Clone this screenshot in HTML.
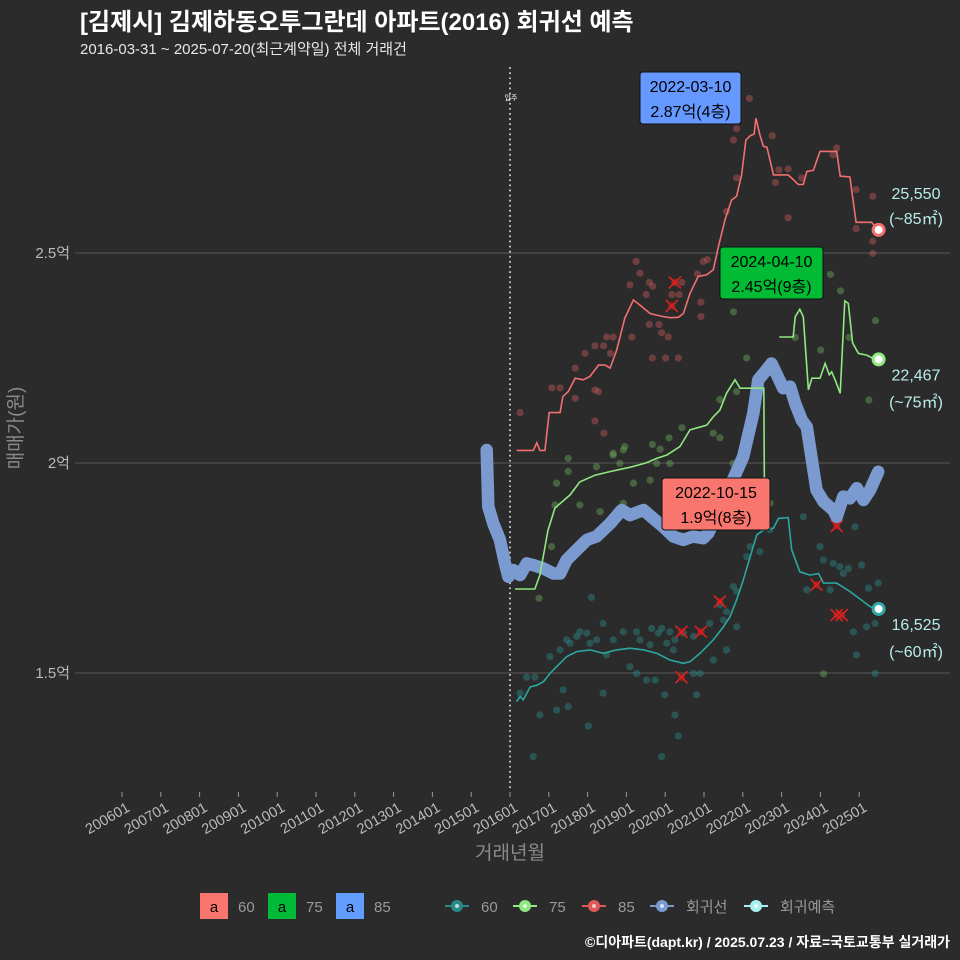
<!DOCTYPE html>
<html><head><meta charset="utf-8">
<style>
html,body{margin:0;padding:0;background:#2b2b2b;}
svg{display:block;font-family:"Liberation Sans","Noto Sans CJK KR",sans-serif;}
</style></head>
<body>
<svg id="chart" width="960" height="960" viewBox="0 0 960 960" xmlns="http://www.w3.org/2000/svg">
<rect x="0" y="0" width="960" height="960" fill="#2b2b2b"/>
<text x="80" y="30" fill="#ffffff" font-size="24" font-weight="bold">[김제시] 김제하동오투그란데 아파트(2016) 회귀선 예측</text>
<text x="80" y="54" fill="#e8e8e8" font-size="15">2016-03-31 ~ 2025-07-20(최근계약일) 전체 거래건</text>
<g id="grid"></g>
<g id="xaxis"></g>
<g id="yaxis"></g>
<g id="marks"></g>
<text x="511" y="100" fill="#ffffff" font-size="7" text-anchor="middle">입주</text>
<text transform="translate(22,428) rotate(-90)" fill="#8a8a8a" font-size="19" text-anchor="middle">매매가(원)</text>
<text x="510" y="859" fill="#8a8a8a" font-size="19" text-anchor="middle">거래년월</text>
<g id="legend"></g>
<text x="950" y="947" fill="#ffffff" font-size="14" font-weight="bold" text-anchor="end">©디아파트(dapt.kr) / 2025.07.23 / 자료=국토교통부 실거래가</text>
</svg>
<script>
// ===== data =====
const xTickLabels = ["200601","200701","200801","200901","201001","201101","201201","201301","201401","201501","201601","201701","201801","201901","202001","202101","202201","202301","202401","202501"];
const xTickYears = [2006,2007,2008,2009,2010,2011,2012,2013,2014,2015,2016,2017,2018,2019,2020,2021,2022,2023,2024,2025];
const yTickValues = [1.5,2,2.5];
const yTickLabels = ["1.5억","2억","2.5억"];
const moveInYear = 2016.0;

const line85Years = [2016.17,2016.60,2016.69,2016.77,2016.90,2017.01,2017.29,2017.36,2017.50,2017.68,2017.89,2018.06,2018.28,2018.45,2018.58,2018.75,2018.96,2019.18,2019.35,2019.61,2019.87,2020.12,2020.34,2020.47,2020.64,2020.85,2021.07,2021.24,2021.37,2021.54,2021.71,2021.84,2021.97,2022.08,2022.19,2022.29,2022.34,2022.44,2022.53,2022.62,2022.79,2023.17,2023.30,2023.43,2023.56,2023.65,2023.82,2023.99,2024.42,2024.51,2024.76,2024.92,2025.32,2025.50];
const line85Values = [2.03,2.03,2.048,2.03,2.03,2.12,2.12,2.158,2.17,2.202,2.198,2.206,2.233,2.233,2.226,2.269,2.345,2.388,2.376,2.356,2.35,2.346,2.347,2.356,2.404,2.444,2.448,2.46,2.515,2.579,2.626,2.635,2.686,2.769,2.779,2.783,2.821,2.781,2.754,2.752,2.686,2.686,2.675,2.663,2.663,2.694,2.697,2.742,2.742,2.683,2.681,2.573,2.573,2.553];

const line75aYears = [2016.13,2016.64,2016.77,2016.98,2017.16,2017.55,2017.80,2018.19,2018.60,2019.10,2019.50,2019.78,2020.04,2020.38,2020.64,2021.07,2021.24,2021.41,2021.58,2021.80,2021.93,2022.36,2022.54,2022.56];
const line75aValues = [1.70,1.70,1.733,1.84,1.893,1.924,1.955,1.971,1.98,1.99,2.0,2.011,2.019,2.039,2.079,2.09,2.11,2.126,2.166,2.198,2.178,2.178,2.178,1.90];
const line75bYears = [2022.94,2023.30,2023.35,2023.47,2023.56,2023.69,2023.78,2023.99,2024.12,2024.23,2024.29,2024.38,2024.51,2024.63,2024.72,2024.83,2024.98,2025.19,2025.32,2025.50];
const line75bValues = [2.30,2.30,2.348,2.366,2.348,2.174,2.202,2.202,2.237,2.21,2.217,2.198,2.166,2.386,2.38,2.286,2.261,2.257,2.251,2.245];

const line60Years = [2016.17,2016.26,2016.34,2016.52,2016.69,2016.86,2017.03,2017.20,2017.46,2017.72,2018.06,2018.41,2018.75,2019.09,2019.44,2019.78,2020.12,2020.47,2020.64,2020.90,2021.24,2021.50,2021.67,2021.84,2022.01,2022.19,2022.36,2022.53,2022.79,2022.92,2023.17,2023.26,2023.47,2023.73,2023.95,2024.08,2024.42,2024.76,2025.11,2025.28,2025.49];
const line60Values = [1.432,1.444,1.436,1.467,1.471,1.479,1.499,1.515,1.539,1.551,1.555,1.547,1.555,1.559,1.555,1.547,1.531,1.523,1.527,1.547,1.579,1.61,1.634,1.674,1.721,1.777,1.829,1.84,1.845,1.868,1.87,1.793,1.741,1.733,1.737,1.714,1.714,1.694,1.67,1.658,1.652];

const regYears = [2015.40,2015.44,2015.57,2015.74,2015.87,2015.96,2016.09,2016.26,2016.43,2016.60,2016.86,2017.12,2017.29,2017.46,2017.72,2017.98,2018.23,2018.58,2018.88,2019.09,2019.44,2019.69,2019.95,2020.21,2020.47,2020.72,2020.98,2021.11,2021.67,2022.01,2022.27,2022.40,2022.57,2022.74,2022.92,2023.04,2023.22,2023.35,2023.52,2023.65,2023.78,2023.90,2024.08,2024.33,2024.42,2024.59,2024.76,2024.94,2025.11,2025.28,2025.49];
const regValues = [2.031,1.896,1.856,1.817,1.761,1.729,1.745,1.733,1.761,1.757,1.749,1.737,1.737,1.769,1.793,1.817,1.825,1.856,1.888,1.876,1.888,1.868,1.848,1.825,1.817,1.825,1.821,1.833,1.944,2.015,2.118,2.198,2.217,2.237,2.202,2.178,2.182,2.142,2.102,2.086,2.007,1.936,1.908,1.888,1.872,1.92,1.916,1.94,1.912,1.936,1.979];

const pts85Years = [2016.26,2017.08,2017.29,2017.68,2018.19,2018.28,2018.19,2018.42,2017.68,2017.93,2018.19,2018.41,2018.49,2018.66,2018.59,2019.14,2019.09,2019.25,2019.35,2019.59,2019.68,2019.51,2019.59,2019.84,2019.91,2020.08,2019.67,2020.01,2020.34,2020.17,2020.36,2020.43,2020.25,2020.83,2020.92,2020.92,2020.98,2021.09,2021.58,2021.84,2021.76,2021.84,2022.17,2022.76,2022.93,2023.17,2022.84,2023.52,2024.33,2024.42,2024.92,2025.35,2023.17,2024.92,2025.35,2025.35];
const pts85Values = [2.12,2.179,2.179,2.154,2.174,2.17,2.10,2.071,2.226,2.261,2.279,2.279,2.30,2.30,2.261,2.30,2.424,2.48,2.452,2.43,2.421,2.401,2.33,2.33,2.31,2.30,2.25,2.25,2.25,2.401,2.401,2.43,2.43,2.45,2.383,2.349,2.48,2.484,2.599,2.679,2.769,2.796,2.868,2.779,2.698,2.70,2.668,2.679,2.734,2.75,2.651,2.635,2.584,2.558,2.528,2.499];

const pts75Years = [2024.26,2024.52,2021.76,2022.10,2021.84,2021.41,2021.41,2021.24,2020.43,2020.10,2019.67,2019.87,2018.96,2018.66,2023.35,2024.01,2024.74,2025.42,2025.25,2017.50,2017.50,2018.23,2018.66,2018.92,2018.83,2019.18,2019.61,2019.78,2020.12,2021.75,2017.20,2017.16,2017.80,2018.32,2018.92,2017.07,2016.75,2024.08,2022.70];
const pts75Values = [2.449,2.41,2.36,2.25,2.17,2.151,2.06,2.071,2.084,2.06,2.044,2.033,2.039,2.023,2.299,2.269,2.299,2.339,2.15,2.011,1.98,1.991,2.019,2.031,1.999,1.952,1.959,1.999,1.999,1.999,1.952,1.90,1.90,1.884,1.904,1.801,1.678,1.498,1.904];

const pts60Years = [2016.26,2016.43,2016.64,2016.77,2016.60,2017.03,2017.29,2017.46,2017.55,2017.72,2017.80,2017.98,2018.06,2018.23,2018.40,2018.49,2018.66,2018.92,2019.26,2019.35,2019.61,2019.65,2019.82,2019.91,2020.04,2020.21,2020.12,2020.25,2020.47,2020.73,2021.15,2021.41,2021.58,2021.76,2021.84,2021.50,2021.58,2021.24,2020.73,2020.90,2020.81,2019.99,2020.25,2020.34,2019.91,2019.74,2019.52,2019.26,2019.09,2018.40,2018.02,2017.50,2017.37,2017.20,2018.10,2023.56,2023.99,2024.08,2024.33,2024.50,2024.72,2024.59,2025.06,2024.89,2025.49,2025.24,2023.65,2024.25,2024.85,2025.19,2025.41,2024.93,2025.41,2022.19,2022.44,2022.70,2021.84,2022.10];
const pts60Values = [1.452,1.49,1.49,1.40,1.301,1.539,1.555,1.579,1.571,1.587,1.598,1.595,1.571,1.579,1.618,1.543,1.579,1.598,1.598,1.579,1.567,1.606,1.595,1.606,1.571,1.555,1.598,1.579,1.595,1.587,1.618,1.662,1.646,1.706,1.694,1.626,1.555,1.531,1.499,1.499,1.448,1.448,1.40,1.35,1.301,1.483,1.483,1.499,1.515,1.452,1.374,1.42,1.46,1.412,1.68,1.872,1.801,1.769,1.761,1.753,1.749,1.737,1.757,1.848,1.714,1.702,1.698,1.698,1.598,1.61,1.618,1.543,1.499,1.801,1.789,1.841,1.61,1.777];

const xMarkYears = [2020.42,2020.92,2021.41,2020.42,2023.90,2024.42,2024.55,2024.42,2020.25,2020.17];
const xMarkValues = [1.598,1.598,1.670,1.490,1.710,1.638,1.638,1.850,2.43,2.374];

const endYear = 2025.5;
const endValues = [2.555,2.2467,1.6525];
const endLabels = [["25,550","(~85㎡)"],["22,467","(~75㎡)"],["16,525","(~60㎡)"]];
const endColors = ["#f07070","#90e880","#30a8a8"];

const annoTexts = [["2022-03-10","2.87억(4층)"],["2024-04-10","2.45억(9층)"],["2022-10-15","1.9억(8층)"]];
const annoFills = ["#6699ff","#00bb33","#f8766d"];

// ===== scales =====
function X(yr){ return 510 + (yr-2016)*38.8; }
function Y(v){ return 463 - (v-2)*420; }

const NS="http://www.w3.org/2000/svg";
function mk(tag, attrs, parent){ const e=document.createElementNS(NS,tag); for(const k in attrs) e.setAttribute(k,attrs[k]); parent.appendChild(e); return e; }

const grid=document.getElementById('grid'), xaxis=document.getElementById('xaxis'), yaxis=document.getElementById('yaxis'), marks=document.getElementById('marks'), legend=document.getElementById('legend');

yTickValues.forEach((v,i)=>{
  const l=mk('line',{x1:75,x2:950,y1:Y(v),y2:Y(v),stroke:'#5a5a5a','stroke-width':1},grid);
  
  
  const t=mk('text',{x:70,y:Y(v)+5,fill:'#bbbbbb','font-size':15,'text-anchor':'end'},yaxis);
  t.textContent=yTickLabels[i];
  
  
});
xTickYears.forEach((yr,i)=>{
  const x=X(yr);
  const tk=mk('line',{x1:x,x2:x,y1:792,y2:797,stroke:'#999','stroke-width':1},xaxis);
  
  
  const t=mk('text',{transform:`translate(${x+4},802) rotate(-30)`,fill:'#bbbbbb','font-size':14.5,'text-anchor':'end','dominant-baseline':'hanging'},xaxis);
  t.textContent=xTickLabels[i];
  
  
});
const mv=mk('line',{x1:X(moveInYear),x2:X(moveInYear),y1:68,y2:792,stroke:'#cccccc','stroke-width':2,'stroke-dasharray':'0.1 5','stroke-linecap':'round'},marks);



function pts(ys,vs){ return ys.map((y,i)=>X(y).toFixed(1)+','+Y(vs[i]).toFixed(1)).join(' '); }
function scatter(ys,vs,color,name){
  ys.forEach((y,i)=>{
    const c=mk('circle',{cx:X(y),cy:Y(vs[i]),r:3.6,fill:color,'fill-opacity':0.45},marks);
    
    
  });
}
scatter(pts60Years,pts60Values,'#2a8a88','point-60');
scatter(pts75Years,pts75Values,'#6aa85a','point-75');
scatter(pts85Years,pts85Values,'#c05858','point-85');

xMarkYears.forEach((y,i)=>{
  const x=X(y), yy=Y(xMarkValues[i]);
  const g=mk('g',{},marks);
  
  
  mk('circle',{cx:x,cy:yy,r:3.6,fill:'#b02020','fill-opacity':0.7},g);
  mk('path',{d:`M${x-6},${yy-6}L${x+6},${yy+6}M${x+6},${yy-6}L${x-6},${yy+6}`,stroke:'#e02020','stroke-width':1.6},g);
});

const reg=mk('polyline',{points:pts(regYears,regValues),fill:'none',stroke:'#7b9bd0','stroke-width':12.5,'stroke-linejoin':'round','stroke-linecap':'round'},marks);


const l60=mk('polyline',{points:pts(line60Years,line60Values),fill:'none',stroke:'#2aa8a0','stroke-width':1.6},marks);


const l75a=mk('polyline',{points:pts(line75aYears,line75aValues),fill:'none',stroke:'#90e880','stroke-width':1.6},marks);


const l75b=mk('polyline',{points:pts(line75bYears,line75bValues),fill:'none',stroke:'#90e880','stroke-width':1.6},marks);


const l85=mk('polyline',{points:pts(line85Years,line85Values),fill:'none',stroke:'#f07070','stroke-width':1.6},marks);



const offs=[[-31,-6],[21,48],[21,48]];
endValues.forEach((v,i)=>{
  const x=X(endYear), y=Y(v);
  const c=mk('circle',{cx:x,cy:y,r:5.5,fill:'#ffffff',stroke:endColors[i],'stroke-width':3},marks);
  
  
  const t1=mk('text',{x:916,y:y+offs[i][0],fill:'#b8ecec','font-size':16,'text-anchor':'middle'},marks);
  t1.textContent=endLabels[i][0];
  
  
  const t2=mk('text',{x:916,y:y+offs[i][1],fill:'#b8ecec','font-size':16,'text-anchor':'middle'},marks);
  t2.textContent=endLabels[i][1];
  
  
});

const annoBoxX=[640,720,662], annoBoxY=[72,247,478];
annoTexts.forEach((tx,i)=>{
  const g=mk('g',{},marks);
  
  
  const w=i===1?103:(i===0?101:108);
  mk('rect',{x:annoBoxX[i],y:annoBoxY[i],width:w,height:52,rx:3,fill:annoFills[i],stroke:'#111','stroke-width':1},g);
  const a=mk('text',{x:annoBoxX[i]+w/2,y:annoBoxY[i]+20,fill:'#000','font-size':16,'text-anchor':'middle'},g);
  a.textContent=tx[0];
  const b=mk('text',{x:annoBoxX[i]+w/2,y:annoBoxY[i]+45,fill:'#000','font-size':16,'text-anchor':'middle'},g);
  b.textContent=tx[1];
});

// legend
const boxLeg=[["#f8766d","60"],["#00ba38","75"],["#619cff","85"]];
boxLeg.forEach((d,i)=>{
  const x=200+i*68;
  const g=mk('g',{},legend);
  
  
  mk('rect',{x:x,y:893,width:28,height:26,fill:d[0]},g);
  const a=mk('text',{x:x+14,y:912,fill:'#000','font-size':15,'text-anchor':'middle'},g); a.textContent='a';
  const t=mk('text',{x:x+38,y:912,fill:'#999','font-size':15},g); t.textContent=d[1];
});
const ptLeg=[["#2a8a88","60",445],["#90e880","75",513],["#e05858","85",582],["#7b9bd0","회귀선",650],["#a8f0f0","회귀예측",744]];
ptLeg.forEach(d=>{
  const x=d[2];
  const g=mk('g',{},legend);
  
  
  mk('line',{x1:x,x2:x+24,y1:906,y2:906,stroke:d[0],'stroke-width':2},g);
  mk('circle',{cx:x+12,cy:906,r:6,fill:d[0]},g);
  mk('circle',{cx:x+12,cy:906,r:2,fill:'#fff','fill-opacity':0.7},g);
  const t=mk('text',{x:x+36,y:912,fill:'#999','font-size':15},g); t.textContent=d[1];
});
</script>
</body></html>
